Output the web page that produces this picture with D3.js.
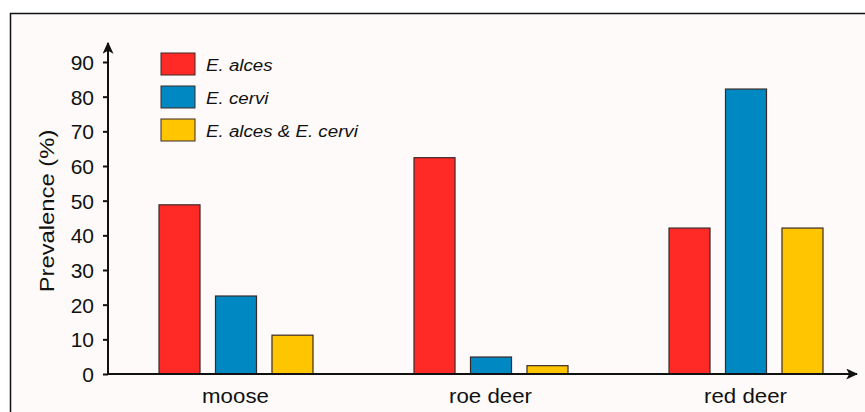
<!DOCTYPE html>
<html lang="en">
<head>
  <meta charset="UTF-8">
  <title>Prevalence</title>
  <script src="https://d3js.org/d3.v7.min.js"></script>
  <style>
    body { margin: 0; background: #fff; }
    text { font-family: "Liberation Sans", Arial, sans-serif; fill: #111; }
  </style>
</head>
<body>
<div class="canvas"></div>
<script>
  // data
  const hosts = ['moose', 'roe deer', 'red deer']
  const species = ['E. alces', 'E. cervi', 'E. alces & E. cervi']
  const alces = [48.8, 62.4, 42.1]
  const cervi = [22.5, 4.9, 82.2]
  const both = [11.2, 2.4, 42.1]
  const yTicks = [0, 10, 20, 30, 40, 50, 60, 70, 80, 90]
  const colors = ['#ff2a26', '#0088c2', '#ffc600']

  const W = 865, H = 412
  const svg = d3.select('.canvas')
    .append('svg')
    .attr('width', W)
    .attr('height', H)

  // frame, runs off the right and bottom edge
  svg.append('rect')
    .attr('x', 10.5).attr('y', 13.5)
    .attr('width', 900).attr('height', 500)
    .attr('fill', '#fdfaf9')
    .attr('stroke', '#111')
    .attr('stroke-width', 1.5)

  const x0 = 108, y0 = 374
  const y = d3.scaleLinear().domain([0, 90]).range([y0, 62])
  // group centres and bars inside each group
  const xg = d3.scalePoint().domain(hosts).range([235.5, 745.5])
  const xs = d3.scaleBand().domain(species).range([-76.5, 77.5]).paddingInner(0.274).paddingOuter(0)

  const rows = hosts.map((h, i) => ({ host: h, vals: [alces[i], cervi[i], both[i]] }))

  // text in the picture is a bit wider than the font, stretch it
  function stretch(sel, k) {
    sel.each(function () {
      const len = this.getComputedTextLength()
      d3.select(this).attr('textLength', len * k).attr('lengthAdjust', 'spacingAndGlyphs')
    })
  }

  const defs = svg.append('defs')
  defs.append('marker')
    .attr('id', 'arr')
    .attr('viewBox', '0 0 10 10')
    .attr('refX', 9).attr('refY', 5)
    .attr('markerWidth', 12).attr('markerHeight', 11)
    .attr('markerUnits', 'userSpaceOnUse')
    .attr('orient', 'auto')
    .attr('preserveAspectRatio', 'none')
    .append('path').attr('d', 'M0,0 L10,5 L0,10 L2.5,5 Z').attr('fill', '#111')

  // bars
  const g = svg.append('g')
  rows.forEach(r => {
    g.selectAll(null)
      .data(r.vals)
      .enter()
      .append('rect')
      .attr('x', (d, j) => xg(r.host) + xs(species[j]))
      .attr('width', xs.bandwidth())
      .attr('y', d => y(d))
      .attr('height', d => y0 - y(d))
      .attr('fill', (d, j) => colors[j])
      .attr('stroke', '#3a2a28')
      .attr('stroke-width', 1.2)
  })

  // y axis
  const yAxis = svg.append('g')
    .attr('transform', `translate(${x0},0)`)
    .call(d3.axisLeft(y).tickValues(yTicks).tickSize(5).tickPadding(9))
  yAxis.select('.domain').remove()
  yAxis.selectAll('line').attr('stroke', '#111').attr('stroke-width', 2)
  yAxis.selectAll('text').style('font-size', '21px').attr('dy', '0.35em')
    .style('font-family', '"Liberation Sans", Arial, sans-serif').attr('fill', '#111')

  svg.append('line')
    .attr('x1', x0).attr('y1', y0 + 1).attr('x2', x0).attr('y2', 43)
    .attr('stroke', '#111').attr('stroke-width', 2)
    .attr('marker-end', 'url(#arr)')
  svg.append('line')
    .attr('x1', x0 - 1).attr('y1', y0).attr('x2', 857).attr('y2', y0)
    .attr('stroke', '#111').attr('stroke-width', 2)
    .attr('marker-end', 'url(#arr)')

  // x labels
  svg.selectAll('.cat')
    .data(hosts)
    .enter()
    .append('text')
    .attr('class', 'cat')
    .attr('x', d => xg(d))
    .attr('y', 403)
    .attr('text-anchor', 'middle')
    .style('font-size', '21px')
    .text(d => d)
    .call(stretch, 1.06)

  svg.append('text')
    .attr('transform', 'translate(54,211) rotate(-90)')
    .attr('text-anchor', 'middle')
    .style('font-size', '20px')
    .text('Prevalence (%)')
    .call(stretch, 1.19)

  // legend
  const leg = svg.append('g').attr('transform', 'translate(161,53)')
  species.forEach((s, i) => {
    leg.append('rect')
      .attr('x', 0).attr('y', i * 33)
      .attr('width', 34).attr('height', 22)
      .attr('fill', colors[i])
      .attr('stroke', '#3a2a28').attr('stroke-width', 1)
    leg.append('text')
      .attr('x', 45).attr('y', i * 33 + 18)
      .style('font-size', '16px')
      .style('font-style', 'italic')
      .text(s)
      .call(stretch, 1.17)
  })
</script>
</body>
</html>
